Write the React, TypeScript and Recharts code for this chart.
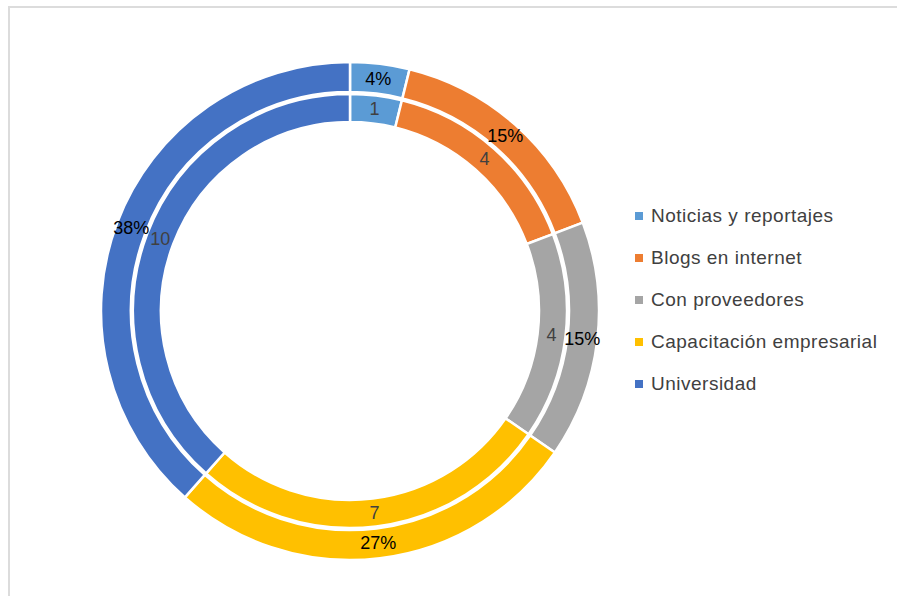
import { PieChart, Pie, Cell, Legend } from "recharts";

const CATEGORIES = [
  "Noticias y reportajes",
  "Blogs en internet",
  "Con proveedores",
  "Capacitación empresarial",
  "Universidad",
];
const COUNTS = [1, 4, 4, 7, 10];
const COLORS = ["#5B9BD5", "#ED7D31", "#A5A5A5", "#FFC000", "#4472C4"];

const FONT = "'Liberation Sans', Arial, sans-serif";
const RAD = Math.PI / 180;

const data = CATEGORIES.map((name, i) => ({ name, value: COUNTS[i] }));

// label sits in the middle of its ring
function makeLabel(kind: "count" | "pct") {
  return (p: any) => {
    const r = (p.innerRadius + p.outerRadius) / 2;
    const x = p.cx + r * Math.cos(-p.midAngle * RAD);
    const y = p.cy + r * Math.sin(-p.midAngle * RAD);
    const txt = kind === "pct" ? `${Math.round(p.percent * 100)}%` : `${p.value}`;
    return (
      <text
        x={x}
        y={y}
        textAnchor="middle"
        dominantBaseline="central"
        fontFamily={FONT}
        fontSize={18}
        fill={kind === "pct" ? "#000000" : "#404040"}
      >
        {txt}
      </text>
    );
  };
}

function LegendBox() {
  return (
    <div style={{ fontFamily: FONT, fontSize: 19, letterSpacing: 0.5, color: "#404040" }}>
      {CATEGORIES.map((c, i) => (
        <div key={c} style={{ height: 42, display: "flex", alignItems: "center" }}>
          <span
            style={{
              width: 8,
              height: 8,
              background: COLORS[i],
              display: "inline-block",
              marginRight: 8,
            }}
          />
          <span>{c}</span>
        </div>
      ))}
    </div>
  );
}

export default function App() {
  return (
    <div style={{ position: "absolute", left: 0, top: 0, width: 897, height: 596, overflow: "hidden", background: "#fff" }}>
      <div
        style={{
          position: "absolute",
          left: 8,
          top: 6,
          width: 1000,
          height: 700,
          borderTop: "2px solid #dcdcdc",
          borderLeft: "2px solid #dcdcdc",
        }}
      />
      <div style={{ position: "absolute", left: 0, top: 0 }}>
        <PieChart width={897} height={596} margin={{ top: 0, right: 0, bottom: 0, left: 0 }}>
          <Pie
            data={data}
            dataKey="value"
            cx={350}
            cy={311}
            innerRadius={189}
            outerRadius={217}
            startAngle={90}
            endAngle={-270}
            stroke="#fff"
            strokeWidth={2.5}
            label={makeLabel("count")}
            labelLine={false}
            isAnimationActive={false}
          >
            {data.map((d, i) => (
              <Cell key={d.name} fill={COLORS[i]} />
            ))}
          </Pie>
          <Pie
            data={data}
            dataKey="value"
            cx={350}
            cy={311}
            innerRadius={219}
            outerRadius={249}
            startAngle={90}
            endAngle={-270}
            stroke="#fff"
            strokeWidth={2.5}
            label={makeLabel("pct")}
            labelLine={false}
            isAnimationActive={false}
          >
            {data.map((d, i) => (
              <Cell key={d.name} fill={COLORS[i]} />
            ))}
          </Pie>
          <Legend
            layout="vertical"
            content={() => <LegendBox />}
            wrapperStyle={{ left: 635, top: 195, width: 262 }}
          />
        </PieChart>
      </div>
    </div>
  );
}
